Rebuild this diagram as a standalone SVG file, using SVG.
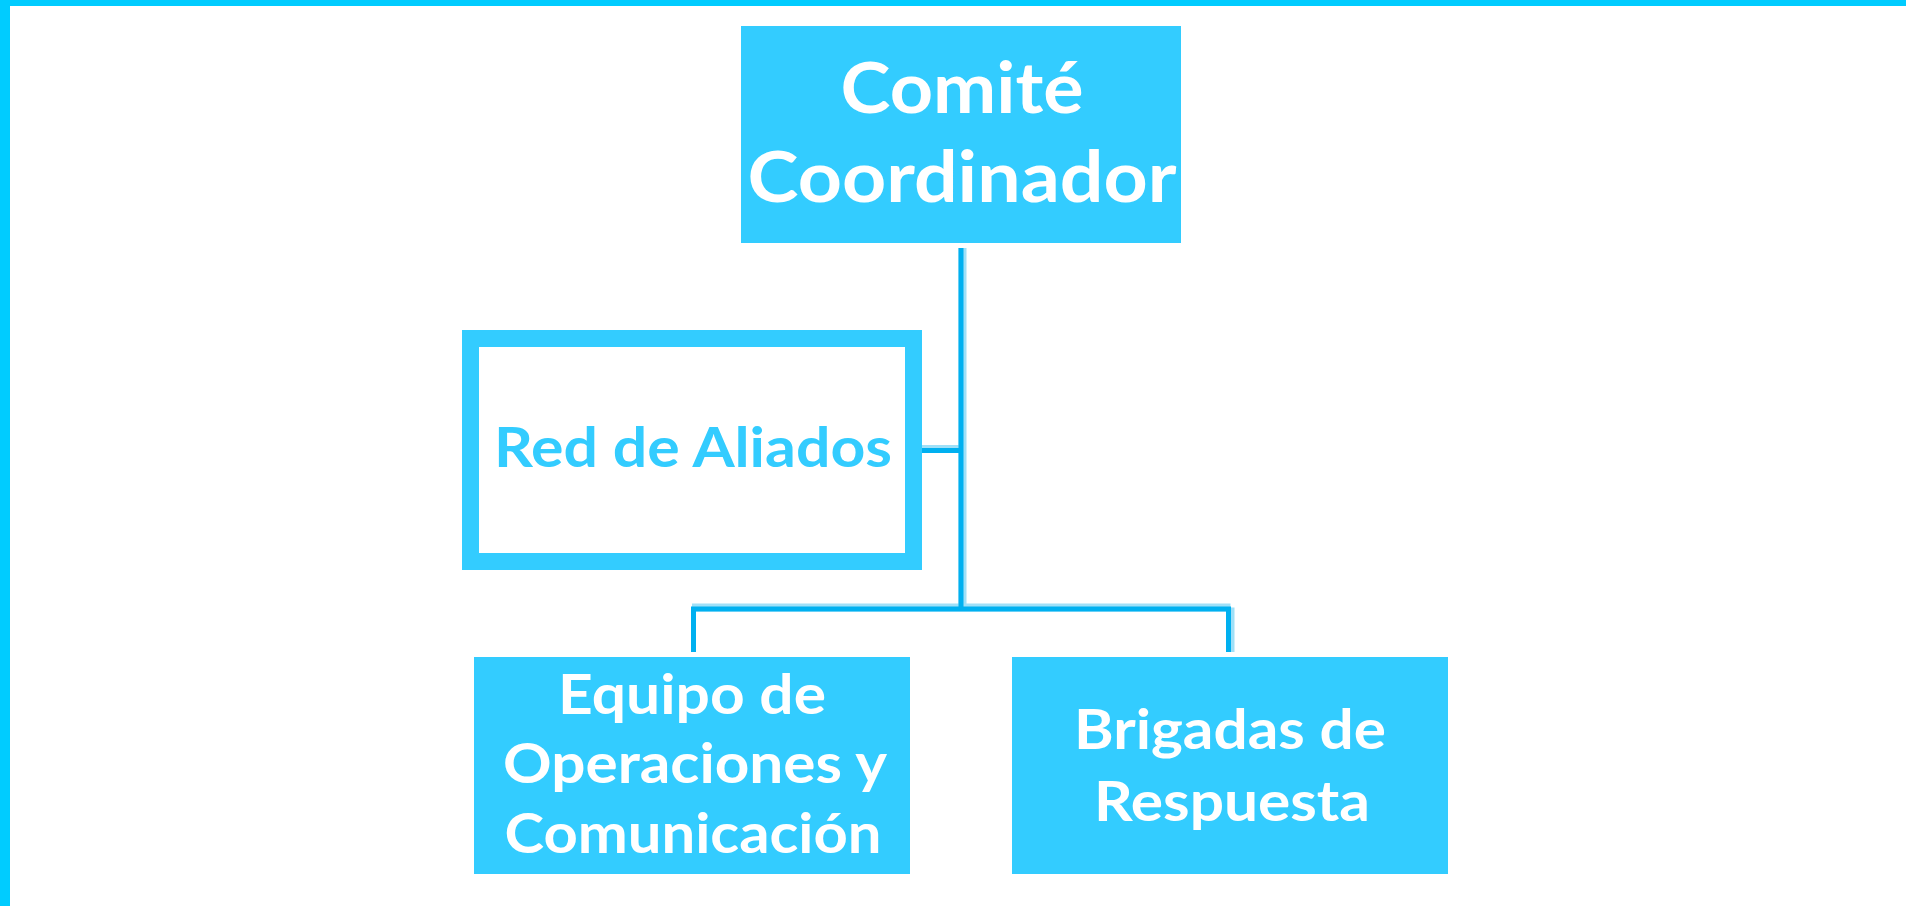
<svg xmlns="http://www.w3.org/2000/svg" width="1906" height="906" viewBox="0 0 1906 906">
<style>
.box{fill:#33CCFF}
.lbl{font-family:Lato,"Open Sans","Liberation Sans",sans-serif;font-weight:bold;fill:#FFFFFF;text-anchor:middle}
.lbl2{font-family:Lato,"Open Sans","Liberation Sans",sans-serif;font-weight:bold;fill:#33CCFF;text-anchor:middle}
.conn{fill:none;stroke:#00B0F0;stroke-width:5}
.halo{fill:none;stroke:#9FE0F8;stroke-width:8}
</style>
<rect x="0" y="0" width="1906" height="906" fill="#FFFFFF"/>
<rect x="0" y="0" width="1906" height="6" fill="#00CCFF"/>
<rect x="0" y="0" width="10" height="906" fill="#00CCFF"/>
<g id="connectors">
<path class="halo" d="M962.5 248 V607.5 M922 449 H962.5 M692 607.5 H1230.5 M1230.5 607.5 V652"/>
<path class="conn" d="M961 248 V609 M922 450.5 H961 M693.5 652 V609 H1228.5 V652"/>
</g>
<g id="comite">
<rect class="box" x="741" y="26" width="440" height="217"/>
<text class="lbl" font-size="70" x="962" y="113" textLength="243" lengthAdjust="spacingAndGlyphs">Comité</text>
<text class="lbl" font-size="70" x="962" y="202" textLength="429" lengthAdjust="spacingAndGlyphs">Coordinador</text>
</g>
<g id="red">
<rect x="470.5" y="338.5" width="443" height="223" fill="#FFFFFF" stroke="#33CCFF" stroke-width="17"/>
<text class="lbl2" font-size="56" x="693" y="467" textLength="398" lengthAdjust="spacingAndGlyphs">Red de Aliados</text>
</g>
<g id="equipo">
<rect class="box" x="474" y="657" width="436" height="217"/>
<text class="lbl" font-size="56" x="692" y="714" textLength="268" lengthAdjust="spacingAndGlyphs">Equipo de</text>
<text class="lbl" font-size="56" x="695" y="783" textLength="384" lengthAdjust="spacingAndGlyphs">Operaciones y</text>
<text class="lbl" font-size="56" x="693" y="853" textLength="377" lengthAdjust="spacingAndGlyphs">Comunicación</text>
</g>
<g id="brigadas">
<rect class="box" x="1012" y="657" width="436" height="217"/>
<text class="lbl" font-size="56" x="1230" y="749" textLength="312" lengthAdjust="spacingAndGlyphs">Brigadas de</text>
<text class="lbl" font-size="56" x="1232" y="821" textLength="276" lengthAdjust="spacingAndGlyphs">Respuesta</text>
</g>
</svg>
